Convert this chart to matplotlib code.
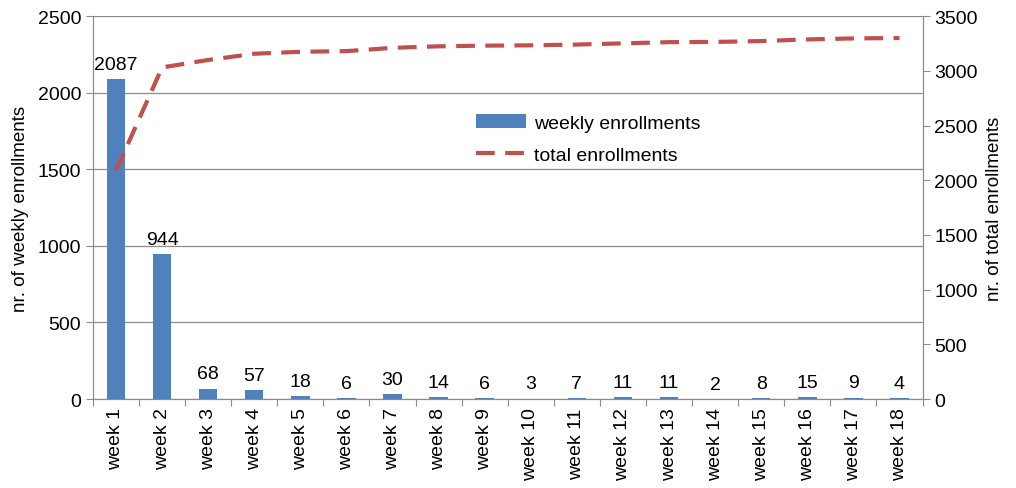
import matplotlib
matplotlib.use("Agg")
import matplotlib.pyplot as plt
import numpy as np

plt.rcParams['font.family'] = ['Liberation Sans', 'DejaVu Sans']

weeks = ["week %d" % i for i in range(1, 19)]
weekly = [2087, 944, 68, 57, 18, 6, 30, 14, 6, 3, 7, 11, 11, 2, 8, 15, 9, 4]
total = [2087, 3031, 3099, 3156, 3174, 3180, 3210, 3224, 3230, 3233,
         3240, 3251, 3262, 3264, 3272, 3287, 3296, 3300]

bar_color = '#4F81BD'
line_color = '#C0504D'
grid_color = '#8C8C8C'

fig = plt.figure(figsize=(10.16, 4.89), dpi=100)
ax = fig.add_axes([0.0915, 0.182, 0.8165, 0.783])
ax2 = ax.twinx()

x = np.arange(len(weeks))
ax.bar(x, weekly, width=0.4, color=bar_color, label='weekly enrollments', zorder=3)
for xi, v in zip(x, weekly):
    ax.text(xi, v + 40, str(v), ha='center', va='bottom', fontsize=14)

ax2.plot(x, total, color=line_color, lw=3, dashes=(4.5, 2.5), label='total enrollments', zorder=4)

ax.set_xlim(-0.5, len(weeks) - 0.5)
ax.set_ylim(0, 2500)
ax.set_yticks(range(0, 2501, 500))
ax2.set_ylim(0, 3500)
ax2.set_yticks(range(0, 3501, 500))

# ticks at category borders, labels at category centres
ax.set_xticks(np.arange(-0.5, len(weeks), 1))
ax.set_xticklabels([])
ax.set_xticks(x, minor=True)
ax.set_xticklabels(weeks, minor=True, rotation=90, fontsize=14)
ax.tick_params(axis='x', which='minor', length=0, pad=6)
ax.tick_params(axis='x', which='major', length=5, color=grid_color, direction='out')
ax.tick_params(axis='y', labelsize=14, length=5, color=grid_color)
ax2.tick_params(axis='y', labelsize=14, length=5, color=grid_color)

ax.yaxis.grid(True, color=grid_color, lw=0.9, zorder=0)
ax.set_axisbelow(True)

for a in (ax, ax2):
    a.spines['top'].set_visible(False)
    for s in ('left', 'right', 'bottom'):
        a.spines[s].set_color(grid_color)

ax.set_ylabel('nr. of weekly enrollments', fontsize=13.5, labelpad=6)
ax2.set_ylabel('nr. of total enrollments', fontsize=13.5, labelpad=6)

h1, l1 = ax.get_legend_handles_labels()
h2, l2 = ax2.get_legend_handles_labels()
fig.legend(h1 + h2, l1 + l2, loc='upper left', bbox_to_anchor=(0.451, 0.8),
           frameon=False, fontsize=14, handlelength=2.6, handletextpad=0.4,
           labelspacing=0.75)

fig.savefig("out.png", dpi=100)
